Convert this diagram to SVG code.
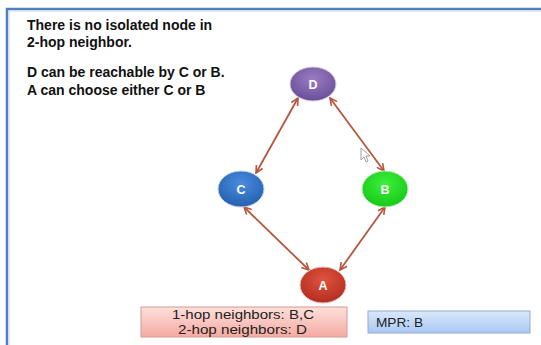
<svg xmlns="http://www.w3.org/2000/svg" width="541" height="345" viewBox="0 0 541 345">
<defs>
<style>
.t{font-family:"Liberation Sans",Arial,sans-serif;font-weight:bold;font-size:14px;fill:#111}
.nl{font-family:"Liberation Sans",Arial,sans-serif;font-weight:bold;font-size:12.5px;fill:#fff;text-anchor:middle}
.bx{font-family:"Liberation Sans",Arial,sans-serif;font-size:13px;fill:#222}
.e{stroke:#b8553f;stroke-width:1.8;fill:none;marker-start:url(#ah);marker-end:url(#ah)}
</style>
<marker id="ah" viewBox="0 0 10 10" refX="9" refY="5" markerWidth="5" markerHeight="5" orient="auto-start-reverse" markerUnits="strokeWidth">
<path d="M1,1 L9,5 L1,9" fill="none" stroke="#b8553f" stroke-width="1.8"/>
</marker>
<radialGradient id="gD" cx="50%" cy="35%" r="65%"><stop offset="0" stop-color="#9a7cc4"/><stop offset="1" stop-color="#6a4f96"/></radialGradient>
<radialGradient id="gC" cx="50%" cy="35%" r="65%"><stop offset="0" stop-color="#4b8be0"/><stop offset="1" stop-color="#2460ad"/></radialGradient>
<radialGradient id="gB" cx="50%" cy="35%" r="65%"><stop offset="0" stop-color="#3cf03c"/><stop offset="1" stop-color="#16c916"/></radialGradient>
<radialGradient id="gA" cx="50%" cy="35%" r="65%"><stop offset="0" stop-color="#e0533f"/><stop offset="1" stop-color="#b22d1f"/></radialGradient>
<linearGradient id="gP" x1="0" y1="0" x2="0" y2="1"><stop offset="0" stop-color="#fde0dc"/><stop offset="1" stop-color="#f5aaa2"/></linearGradient>
<linearGradient id="gBl" x1="0" y1="0" x2="0" y2="1"><stop offset="0" stop-color="#dbe8fc"/><stop offset="1" stop-color="#a9c8f5"/></linearGradient>
</defs>
<rect x="0" y="0" width="541" height="345" fill="#fff"/>
<path d="M7,345 V9 H541" fill="none" stroke="#4f7fc4" stroke-width="2.5"/>
<path d="M9,345 V11 H541" fill="none" stroke="#c9d6ea" stroke-width="1"/>
<g id="note">
<text class="t" x="27" y="30">There is no isolated node in</text>
<text class="t" x="27" y="47">2-hop neighbor.</text>
<text class="t" x="27" y="77">D can be reachable by C or B.</text>
<text class="t" x="27" y="95">A can choose either C or B</text>
</g>
<g id="connectors">
<line class="e" x1="298" y1="98" x2="256" y2="173"/>
<line class="e" x1="330" y1="98" x2="384" y2="171"/>
<line class="e" x1="244" y1="207" x2="309" y2="270"/>
<line class="e" x1="385" y1="207" x2="340" y2="270"/>
</g>
<g id="node-D"><ellipse cx="313" cy="84" rx="23" ry="17" fill="url(#gD)" stroke="#d9d0e6" stroke-width="1"/><text class="nl" x="313" y="88.5">D</text></g>
<g id="node-C"><ellipse cx="241" cy="189" rx="23" ry="18" fill="url(#gC)" stroke="#c8d8ee" stroke-width="1"/><text class="nl" x="241" y="193.5">C</text></g>
<g id="node-B"><ellipse cx="385" cy="189" rx="23" ry="18" fill="url(#gB)" stroke="#c8eec8" stroke-width="1"/><text class="nl" x="385" y="193.5">B</text></g>
<g id="node-A"><ellipse cx="323" cy="285" rx="23" ry="18" fill="url(#gA)" stroke="#eec8c4" stroke-width="1"/><text class="nl" x="323" y="289.5">A</text></g>
<g id="cursor"><path d="M361,148 L361,160 L364,157 L366,162 L368,161 L366,156 L370,156 Z" fill="#fff" stroke="#888" stroke-width="0.8"/></g>
<g id="hop-box">
<rect x="141" y="307" width="206" height="30" fill="url(#gP)" stroke="#d49a90" stroke-width="1"/>
<text class="bx" x="172" y="319" textLength="142" lengthAdjust="spacingAndGlyphs">1-hop neighbors: B,C</text>
<text class="bx" x="178" y="333.5" textLength="129" lengthAdjust="spacingAndGlyphs">2-hop neighbors: D</text>
</g>
<g id="mpr-box">
<rect x="368" y="311" width="162" height="22" fill="url(#gBl)" stroke="#93a9cc" stroke-width="1"/>
<text class="bx" x="376" y="326.5" textLength="47" lengthAdjust="spacingAndGlyphs">MPR: B</text>
</g>
</svg>
